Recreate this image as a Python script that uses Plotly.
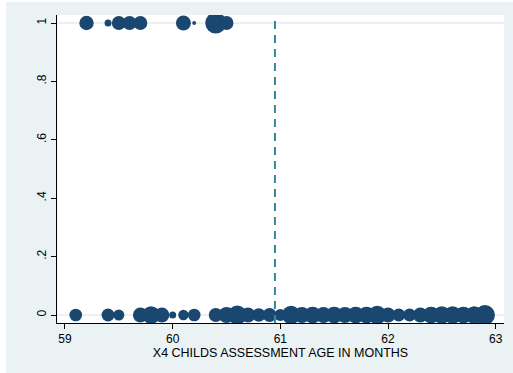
import math
import plotly.graph_objects as go

# Outcome = 0 group: assessment age (months) and frequency weights
age_0 = [59.1, 59.4, 59.5, 59.7, 59.8, 59.9, 60.0, 60.1, 60.2, 60.4, 60.5, 60.6,
         60.7, 60.8, 60.9, 61.0, 61.1, 61.2, 61.3, 61.4, 61.5, 61.6, 61.7, 61.8,
         61.9, 62.0, 62.1, 62.2, 62.3, 62.4, 62.5, 62.6, 62.7, 62.8, 62.9]
wt_0 = [34, 36, 25, 48, 70, 48, 9, 22, 34, 42, 56, 81,
        48, 40, 42, 30, 76, 56, 62, 56, 62, 56, 62, 62,
        76, 48, 36, 36, 48, 62, 68, 68, 62, 68, 90]

# Outcome = 1 group
age_1 = [59.2, 59.4, 59.5, 59.6, 59.7, 60.1, 60.2, 60.4, 60.5]
wt_1 = [45, 9, 42, 42, 42, 49, 2, 100, 42]

cutoff = 60.95

x_ticks = [59, 60, 61, 62, 63]
x_tick_text = ["59", "60", "61", "62", "63"]
y_ticks = [0, 0.2, 0.4, 0.6, 0.8, 1]
y_tick_text = ["0", ".2", ".4", ".6", ".8", "1"]

NAVY = "#1a476f"
BG = "#eaf2f3"
FONT = "Liberation Sans, Arial, sans-serif"


def diam(w):
    # marker area proportional to weight
    return [2.0 * math.sqrt(v) + 1.0 for v in w]


fig = go.Figure()
for xs, ws, yv in [(age_0, wt_0, 0), (age_1, wt_1, 1)]:
    fig.add_trace(go.Scatter(
        x=xs, y=[yv] * len(xs), mode="markers",
        marker=dict(color=NAVY, size=diam(ws), line=dict(width=0), opacity=1),
        showlegend=False, hoverinfo="x+y",
    ))

# light reference lines at the two outcome levels
for yv in (0, 1):
    fig.add_shape(type="line", xref="x domain", yref="y", x0=0, x1=1, y0=yv, y1=yv,
                  line=dict(color="#e3ecee", width=1.5), layer="below")

# cutoff line
fig.add_shape(type="line", xref="x", yref="y domain", x0=cutoff, x1=cutoff, y0=0, y1=1,
              line=dict(color="#2f8a9e", width=2, dash="8px,6px"), layer="above")

# white strips outside the graph region
fig.add_shape(type="rect", xref="paper", yref="paper",
              x0=-57 / 447, x1=(513 - 57) / 447, y0=1 + 13 / 308, y1=1 + 20 / 308,
              fillcolor="white", line=dict(width=0), layer="below")
fig.add_shape(type="rect", xref="paper", yref="paper",
              x0=-57 / 447, x1=-51 / 447, y0=-1, y1=2,
              fillcolor="white", line=dict(width=0), layer="below")

fig.update_layout(
    width=513, height=373,
    margin=dict(l=57, r=9, t=15, b=50),
    paper_bgcolor=BG, plot_bgcolor="white",
    font=dict(family=FONT, size=12, color="black"),
    xaxis=dict(
        range=[58.926, 63.077], tickvals=x_ticks, ticktext=x_tick_text,
        showgrid=False, zeroline=False, showline=True, linecolor="black", linewidth=1,
        ticks="outside", ticklen=5, tickcolor="black", tickwidth=1,
        tickfont=dict(size=12),
        title=dict(text="X4 CHILDS ASSESSMENT AGE IN MONTHS", font=dict(size=12.5), standoff=2),
    ),
    yaxis=dict(
        range=[-0.0274, 1.0274], tickvals=y_ticks, ticktext=y_tick_text,
        showgrid=False, zeroline=False, showline=True, linecolor="black", linewidth=1,
        ticks="outside", ticklen=5, tickcolor="black", tickwidth=1,
        tickangle=-90, tickfont=dict(size=12),
    ),
)

fig.write_html("out.html")
